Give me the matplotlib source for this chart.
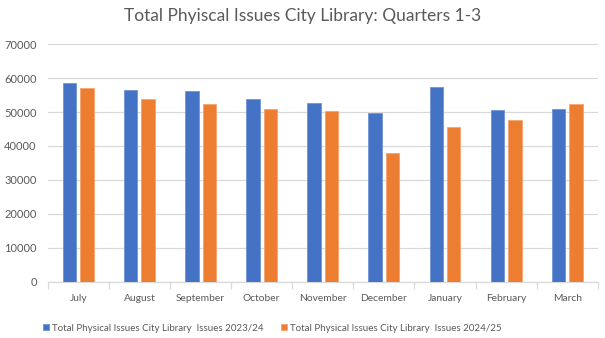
import numpy as np
import matplotlib.pyplot as plt

months = ['July', 'August', 'September', 'October', 'November', 'December',
          'January', 'February', 'March']
issues_2324 = [58700, 56400, 56200, 53800, 52600, 49700, 57500, 50500, 50900]
issues_2425 = [57200, 53800, 52300, 50800, 50200, 38000, 45500, 47600, 52500]
labels = ['Total Physical Issues City Library  Issues 2023/24',
          'Total Physical Issues City Library  Issues 2024/25']

plt.rcParams['font.family'] = ['Lato', 'DejaVu Sans']

fig = plt.figure(figsize=(6.05, 3.38), dpi=100)
ax = fig.add_axes([0.079, 0.167, 0.909, 0.702])

x = np.arange(len(months))
w = 0.22
ax.bar(x - 0.143, issues_2324, w, color='#4472C4', edgecolor='#6f93d6', linewidth=0.6,
       label=labels[0], zorder=3)
ax.bar(x + 0.143, issues_2425, w, color='#ED7D31', edgecolor='#f5a46e', linewidth=0.6,
       label=labels[1], zorder=3)

ax.set_xlim(-0.5, len(months) - 0.5)
ax.set_ylim(0, 70000)
ax.set_yticks(np.arange(0, 70001, 10000))
ax.yaxis.grid(True, color='#d9d9d9', linewidth=0.9, zorder=0)
ax.tick_params(axis='y', length=0, labelsize=8, labelcolor='#595959', pad=8)

ax.set_xticks(x)
ax.set_xticklabels(months)
ax.set_xticks(np.arange(-0.5, len(months)), minor=True)
ax.tick_params(axis='x', which='major', length=0, labelsize=7.4, labelcolor='#595959', pad=9)
ax.tick_params(axis='x', which='minor', length=5, color='#d9d9d9', width=0.9)

for s in ['top', 'right', 'left']:
    ax.spines[s].set_visible(False)
ax.spines['bottom'].set_color('#d9d9d9')
ax.spines['bottom'].set_linewidth(0.9)

fig.suptitle('Total Phyiscal Issues City Library: Quarters 1-3', y=0.975,
             fontsize=12.5, color='#595959')

fig.legend(loc='lower center', bbox_to_anchor=(0.45, -0.01), ncol=2, frameon=False,
           fontsize=7, labelcolor='#595959', handlelength=0.6, handleheight=0.6,
           handletextpad=0.3, columnspacing=1.8)

fig.savefig('out.png', dpi=100)
